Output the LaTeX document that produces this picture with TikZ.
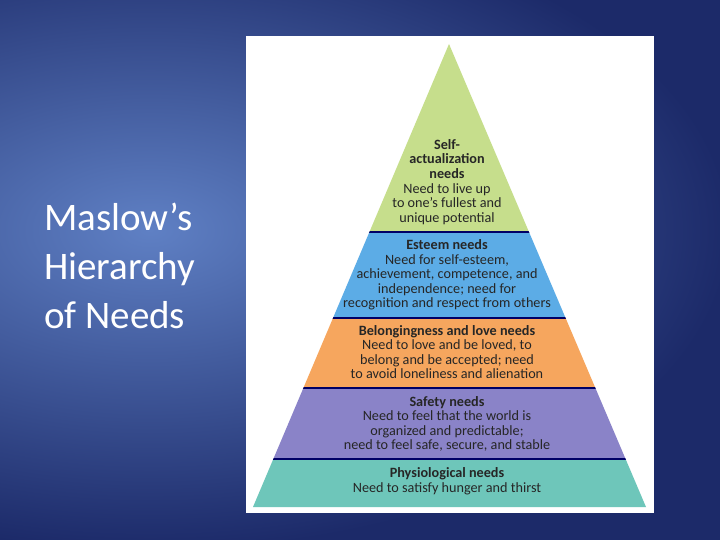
\documentclass[tikz,border=0pt]{standalone}
\usepackage{fontspec}
\setmainfont{Carlito}
\begin{document}
\begin{tikzpicture}[x=1pt,y=-1pt,
  lbl/.style={align=center,text=black!85,font=\fontsize{14.2}{14.6}\selectfont,inner sep=0pt},
  sep/.style={draw=blue!40!black,line width=2pt}]
\useasboundingbox (0,0) rectangle (720,540);
\shade[inner color={rgb,255:red,95;green,128;blue,196},outer color={rgb,255:red,28;green,42;blue,105}] (-430,-90) rectangle (730,550);
\fill[white] (246,36) rectangle (654,513);
\begin{scope}
\clip (449,44) -- (646,507) -- (253,507) -- cycle;
\fill[fill={rgb,255:red,198;green,222;blue,140}] (240,40) rectangle (660,232);
\fill[fill={rgb,255:red,92;green,172;blue,230}] (240,232) rectangle (660,318);
\fill[fill={rgb,255:red,246;green,166;blue,94}] (240,318) rectangle (660,388);
\fill[fill={rgb,255:red,138;green,131;blue,200}] (240,388) rectangle (660,459);
\fill[fill={rgb,255:red,110;green,198;blue,186}] (240,459) rectangle (660,510);
\foreach \y in {232,318,388,459} \draw[sep] (240,\y) -- (660,\y);
\end{scope}
\node[lbl] (sa) at (447,182) {\textbf{Self-}\\\textbf{actualization}\\\textbf{needs}\\Need to live up\\to one’s fullest and\\unique potential};
\node[lbl] (es) at (447,275) {\textbf{Esteem needs}\\Need for self-esteem,\\achievement, competence, and\\independence; need for\\recognition and respect from others};
\node[lbl] (bl) at (447,352) {\textbf{Belongingness and love needs}\\Need to love and be loved, to\\belong and be accepted; need\\to avoid loneliness and alienation};
\node[lbl] (sf) at (447,424) {\textbf{Safety needs}\\Need to feel that the world is\\organized and predictable;\\need to feel safe, secure, and stable};
\node[lbl] (ph) at (447,481) {\textbf{Physiological needs}\\Need to satisfy hunger and thirst};
\node[anchor=north west,align=left,text=white,font=\fontsize{39}{49}\selectfont,inner sep=0pt] (title) at (44,203) {Maslow’s\\Hierarchy\\of Needs};
\end{tikzpicture}
\end{document}
